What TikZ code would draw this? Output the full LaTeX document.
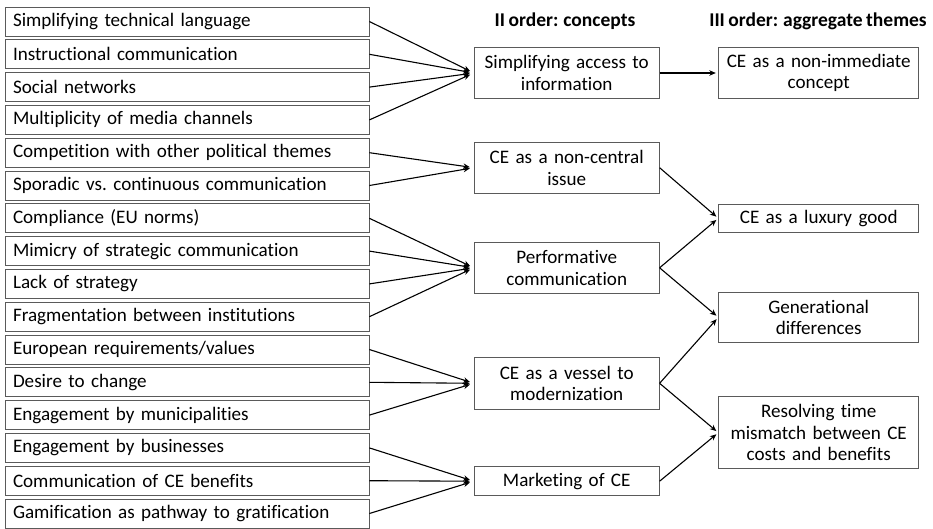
\documentclass[tikz,border=0pt]{standalone}
\usepackage{fontspec}
\setmainfont{Carlito}[Ligatures=NoCommon,WordSpace=0.8]
\usetikzlibrary{arrows.meta}
\definecolor{boxgray}{RGB}{90,90,90}
\newcommand{\fs}{\fontsize{19.1pt}{21.7pt}\selectfont\frenchspacing}
\newcommand{\hs}{\fontsize{19.5pt}{21.7pt}\selectfont\bfseries}
\begin{document}
\begin{tikzpicture}[x=1pt,y=-1pt,
  lbox/.style={draw=boxgray, line width=0.8pt, minimum width=364pt, minimum height=29pt, text width=348pt, align=left, inner xsep=8pt, inner ysep=0pt, font=\fs},
  mbox/.style={draw=boxgray, line width=0.8pt, minimum width=185pt, text width=180pt, align=center, inner xsep=2.5pt, inner ysep=0pt, font=\fs},
  rbox/.style={draw=boxgray, line width=0.8pt, minimum width=200pt, text width=195pt, align=center, inner xsep=2.5pt, inner ysep=0pt, font=\fs},
  head/.style={font=\hs, inner sep=0pt},
  conn/.style={-{Stealth[length=6.5pt,width=5.5pt]}, line width=1.1pt, shorten >=4pt},
  conn2/.style={-{Stealth[length=6.5pt,width=5.5pt]}, line width=1.1pt, shorten >=2.5pt}]
\fill[white] (0,0) rectangle (933,528);
\useasboundingbox (0,0) rectangle (933,528);
% left boxes
\node[lbox] (l1)  at (187,21.5)  {Simplifying technical language};
\node[lbox] (l2)  at (187,54.3)  {Instructional communication};
\node[lbox] (l3)  at (187,87.1)  {Social networks};
\node[lbox] (l4)  at (187,119.9) {Multiplicity of media channels};
\node[lbox] (l5)  at (187,152.7) {Competition with other political themes};
\node[lbox] (l6)  at (187,185.5) {Sporadic vs. continuous communication};
\node[lbox] (l7)  at (187,218.3) {Compliance (EU norms)};
\node[lbox] (l8)  at (187,251.1) {Mimicry of strategic communication};
\node[lbox] (l9)  at (187,283.9) {Lack of strategy};
\node[lbox] (l10) at (187,316.7) {Fragmentation between institutions};
\node[lbox] (l11) at (187,349.5) {European requirements/values};
\node[lbox] (l12) at (187,382.3) {Desire to change};
\node[lbox] (l13) at (187,415.1) {Engagement by municipalities};
\node[lbox] (l14) at (187,447.9) {Engagement by businesses};
\node[lbox] (l15) at (187,480.7) {Communication of CE benefits};
\node[lbox] (l16) at (187,513.5) {Gamification as pathway to gratification};
% headers
\node[head] (h2) at (565,21) {II order: concepts};
\node[head] (h3) at (818,21) {III order: aggregate themes};
% middle boxes
\node[mbox, minimum height=51.4pt] (m1) at (566.7,73)    {Simplifying access to\\information};
\node[mbox, minimum height=50.7pt] (m2) at (566.7,167.7) {CE as a non-central\\issue};
\node[mbox, minimum height=51pt]   (m3) at (566.7,267.8) {Performative\\communication};
\node[mbox, minimum height=51.3pt] (m4) at (566.7,383.3) {CE as a vessel to\\modernization};
\node[mbox, minimum height=29pt]   (m5) at (566.7,481.2) {Marketing of CE};
% right boxes
\node[rbox, minimum height=51.4pt] (r1) at (818.7,73)    {CE as a non-immediate\\concept};
\node[rbox, minimum height=28.7pt] (r2) at (818.7,218.3) {CE as a luxury good};
\node[rbox, minimum height=50.7pt] (r3) at (818.7,317.3) {Generational\\differences};
\node[rbox, minimum height=72pt]   (r4) at (818.7,432.7) {Resolving time\\mismatch between CE\\costs and benefits};
% connectors
\foreach \a in {l1,l2,l3,l4} \draw[conn] (\a.east) -- (m1.west);
\foreach \a in {l5,l6} \draw[conn] (\a.east) -- (m2.west);
\foreach \a in {l7,l8,l9,l10} \draw[conn] (\a.east) -- (m3.west);
\foreach \a in {l11,l12,l13} \draw[conn] (\a.east) -- (m4.west);
\foreach \a in {l14,l15,l16} \draw[conn] (\a.east) -- (m5.west);
\draw[conn2] (m1.east) -- (r1.west);
\draw[conn2] (m2.east) -- (r2.west);
\draw[conn2] (m3.east) -- (r2.west);
\draw[conn2] (m3.east) -- (r3.west);
\draw[conn2] (m4.east) -- (r3.west);
\draw[conn2] (m4.east) -- (r4.west);
\draw[conn2] (m5.east) -- (r4.west);
\end{tikzpicture}
\end{document}
